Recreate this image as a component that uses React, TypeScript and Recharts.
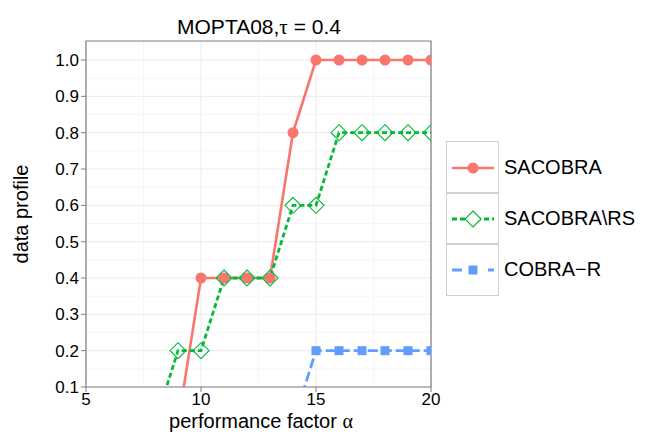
import React from 'react';
import {
  LineChart,
  Line,
  XAxis,
  YAxis,
  CartesianGrid,
  ReferenceArea
} from 'recharts';

// data
const alphaValues = [8, 9, 10, 11, 12, 13, 14, 15, 16, 17, 18, 19, 20];
const sacobra = [0, 0, 0.4, 0.4, 0.4, 0.4, 0.8, 1, 1, 1, 1, 1, 1];
const sacobraRS = [0, 0.2, 0.2, 0.4, 0.4, 0.4, 0.6, 0.6, 0.8, 0.8, 0.8, 0.8, 0.8];
const cobraR = [0, 0, 0, 0, 0, 0, 0, 0.2, 0.2, 0.2, 0.2, 0.2, 0.2];

const xTicks = [5, 10, 15, 20];
const xMinor = [7.5, 12.5, 17.5];
const yTicks = [0.1, 0.2, 0.3, 0.4, 0.5, 0.6, 0.7, 0.8, 0.9, 1.0];
const yMinor = [0.15, 0.25, 0.35, 0.45, 0.55, 0.65, 0.75, 0.85, 0.95];
const seriesNames = ['SACOBRA', 'SACOBRA\\RS', 'COBRA\u2212R'];

const Y_MAX = 1.0523;

const FONT = '"Liberation Sans", Arial, Helvetica, sans-serif';
const GREEK = '"Liberation Serif", "DejaVu Serif", serif';

const COLORS = {
  red: '#F8766D',
  green: '#00BA38',
  blue: '#619CFF',
  border: '#7f7f7f',
  major: '#ebebeb',
  minor: '#f6f6f6',
  keyBorder: '#d0d0d0'
};

const tableData = alphaValues.map((alpha, i) => ({
  alpha,
  sacobra: sacobra[i],
  sacobraRS: sacobraRS[i],
  cobraR: cobraR[i]
}));

// marker shapes
const circleDot = (props: any) => {
  const { cx, cy, index } = props;
  if (cx == null || cy == null) return <g key={`c-${index}`} />;
  return <circle key={`c-${index}`} cx={cx} cy={cy} r={5.5} fill={COLORS.red} />;
};

const diamondDot = (props: any) => {
  const { cx, cy, index } = props;
  if (cx == null || cy == null) return <g key={`d-${index}`} />;
  const h = 8;
  return (
    <polygon
      key={`d-${index}`}
      points={`${cx},${cy - h} ${cx + h},${cy} ${cx},${cy + h} ${cx - h},${cy}`}
      fill="none"
      stroke={COLORS.green}
      strokeWidth={1.1}
    />
  );
};

const squareDot = (props: any) => {
  const { cx, cy, index } = props;
  if (cx == null || cy == null) return <g key={`s-${index}`} />;
  const s = 9;
  return <rect key={`s-${index}`} x={cx - s / 2} y={cy - s / 2} width={s} height={s} fill={COLORS.blue} />;
};

function LegendKey({ kind }: { kind: number }) {
  return (
    <svg width={53} height={52} style={{ display: 'block' }}>
      {kind === 0 && (
        <>
          <line x1={5} y1={26} x2={47} y2={26} stroke={COLORS.red} strokeWidth={2.6} />
          <circle cx={26} cy={26} r={5.5} fill={COLORS.red} />
        </>
      )}
      {kind === 1 && (
        <>
          <line x1={5} y1={26} x2={47} y2={26} stroke={COLORS.green} strokeWidth={2.8} strokeDasharray="5 3" />
          <polygon points="26,18 34,26 26,34 18,26" fill="white" stroke={COLORS.green} strokeWidth={1.1} />
        </>
      )}
      {kind === 2 && (
        <>
          <line x1={5} y1={26} x2={47} y2={26} stroke={COLORS.blue} strokeWidth={2.8} strokeDasharray="10 26" />
          <rect x={21.5} y={21.5} width={9} height={9} fill={COLORS.blue} />
        </>
      )}
    </svg>
  );
}

export default function App() {
  return (
    <div style={{ position: 'absolute', left: 0, top: 0, width: 664, height: 443, background: '#fff', fontFamily: FONT }}>
      <LineChart
        width={664}
        height={443}
        data={tableData}
        margin={{ top: 41, right: 233, bottom: 0, left: 0 }}
      >
        <CartesianGrid
          stroke={COLORS.minor}
          strokeWidth={1}
          horizontalValues={yMinor}
          verticalValues={xMinor}
        />
        <CartesianGrid
          stroke={COLORS.major}
          strokeWidth={1}
          horizontalValues={yTicks}
          verticalValues={xTicks}
        />

        <XAxis
          type="number"
          dataKey="alpha"
          domain={[5, 20]}
          ticks={xTicks}
          allowDataOverflow
          height={56}
          axisLine={false}
          tickLine={{ stroke: COLORS.border }}
          tickSize={5}
          tickMargin={1}
          tick={{ fill: '#000', fontSize: 17, fontFamily: FONT }}
        />
        <YAxis
          type="number"
          domain={[0.1, Y_MAX]}
          ticks={yTicks}
          allowDataOverflow
          width={86}
          axisLine={false}
          tickLine={{ stroke: COLORS.border }}
          tickSize={5}
          tickMargin={2}
          tick={{ fill: '#000', fontSize: 17, fontFamily: FONT }}
          tickFormatter={(v: number) => v.toFixed(1)}
        />

        {/* lines first, then markers, as ggplot layers them */}
        <Line dataKey="sacobra" stroke={COLORS.red} strokeWidth={2.6} dot={false} activeDot={false} isAnimationActive={false} />
        <Line dataKey="sacobraRS" stroke={COLORS.green} strokeWidth={2.8} strokeDasharray="5 3" dot={false} activeDot={false} isAnimationActive={false} />
        <Line dataKey="cobraR" stroke={COLORS.blue} strokeWidth={2.8} strokeDasharray="10 4" dot={false} activeDot={false} isAnimationActive={false} />

        <Line dataKey="sacobra" stroke="none" dot={circleDot} activeDot={false} isAnimationActive={false} />
        <Line dataKey="sacobraRS" stroke="none" dot={diamondDot} activeDot={false} isAnimationActive={false} />
        <Line dataKey="cobraR" stroke="none" dot={squareDot} activeDot={false} isAnimationActive={false} />

        <ReferenceArea x1={5} x2={20} y1={0.1} y2={Y_MAX} fill="none" stroke={COLORS.border} strokeWidth={1.2} ifOverflow="visible" />
      </LineChart>

      {/* title */}
      <div style={{ position: 'absolute', left: 0, width: 518, top: 15, textAlign: 'center', fontSize: 21, color: '#000', whiteSpace: 'pre' }}>
        MOPTA08,<span style={{ fontFamily: GREEK }}>τ</span> = 0.4
      </div>

      {/* axis titles */}
      <div style={{ position: 'absolute', left: 0, width: 522, top: 411, lineHeight: '20px', textAlign: 'center', fontSize: 20, color: '#000' }}>
        performance factor <span style={{ fontFamily: GREEK }}>α</span>
      </div>
      <div
        style={{
          position: 'absolute',
          left: 21,
          top: 214,
          transform: 'translate(-50%, -50%) rotate(-90deg)',
          fontSize: 20,
          color: '#000',
          whiteSpace: 'nowrap'
        }}
      >
        data profile
      </div>

      {/* legend */}
      <div style={{ position: 'absolute', left: 446, top: 141 }}>
        {seriesNames.map((name, i) => (
          <div key={name} style={{ display: 'flex', alignItems: 'center', height: 52, marginTop: i === 0 ? 0 : -1 }}>
            <div style={{ border: `1px solid ${COLORS.keyBorder}`, width: 51, height: 51, overflow: 'hidden' }}>
              <LegendKey kind={i} />
            </div>
            <div style={{ marginLeft: 5, fontSize: 20, color: '#000' }}>{name}</div>
          </div>
        ))}
      </div>
    </div>
  );
}
